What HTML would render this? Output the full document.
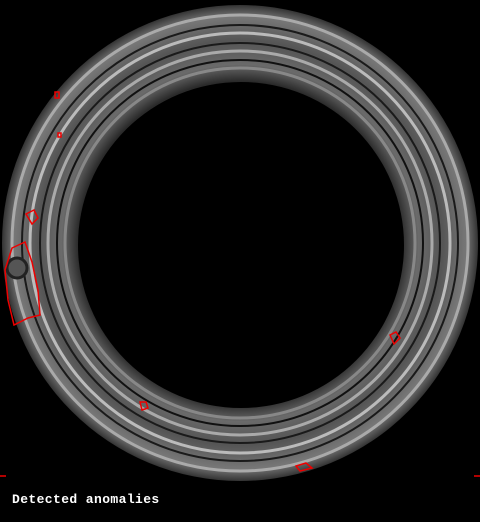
<!DOCTYPE html>
<html><head><meta charset="utf-8"><style>
html,body{margin:0;padding:0;background:#000;}
#wrap{position:relative;width:480px;height:522px;overflow:hidden;background:#000;}
#cap{position:absolute;left:12px;top:492px;color:#fff;font:bold 13px "Liberation Mono",monospace;letter-spacing:0.4px;}
</style></head><body>
<div id="wrap">
<svg width="480" height="522">
<defs>
<radialGradient id="g" cx="240" cy="243" r="238" gradientUnits="userSpaceOnUse">
<stop offset="0.68" stop-color="#2a2a2a"/>
<stop offset="0.75" stop-color="#6a6a6a"/>
<stop offset="0.85" stop-color="#555"/>
<stop offset="0.95" stop-color="#777"/>
<stop offset="1" stop-color="#333"/>
</radialGradient>
</defs>
<circle cx="240" cy="243" r="238" fill="url(#g)"/>
<g fill="none">
<circle cx="240" cy="243" r="228" stroke="#aaa" stroke-width="3"/>
<circle cx="240" cy="243" r="218" stroke="#1a1a1a" stroke-width="2"/>
<circle cx="240" cy="243" r="210" stroke="#bbb" stroke-width="3"/>
<circle cx="240" cy="243" r="200" stroke="#1a1a1a" stroke-width="2"/>
<circle cx="240" cy="243" r="192" stroke="#aaa" stroke-width="3"/>
<circle cx="240" cy="243" r="183" stroke="#111" stroke-width="2"/>
<circle cx="240" cy="243" r="175" stroke="#888" stroke-width="3"/>
</g>
<circle cx="241" cy="245" r="163" fill="#000"/>
<circle cx="17" cy="268" r="10" fill="#555" stroke="#222" stroke-width="3"/>
<g fill="none" stroke="#e00" stroke-width="1.5">
<path d="M12 248 L25 242 L32 262 L38 290 L40 315 L28 318 L14 325 L8 300 L5 270 Z"/>
<path d="M26 214 l8 -4 l4 8 l-6 6 z"/>
<path d="M390 335 l6 -3 l4 6 l-6 6 z"/>
<path d="M296 466 l10 -3 l6 5 l-12 3 z"/>
<path d="M140 402 l6 0 l2 6 l-6 2 z"/>
<path d="M55 92 l4 0 l0 6 l-4 0 z"/>
<path d="M58 133 l3 0 l0 4 l-3 0z"/>
<path d="M0 476 l6 0"/><path d="M474 476 l6 0"/>
</g>
</svg>
<div id="cap">Detected anomalies</div>
</div>
</body></html>
